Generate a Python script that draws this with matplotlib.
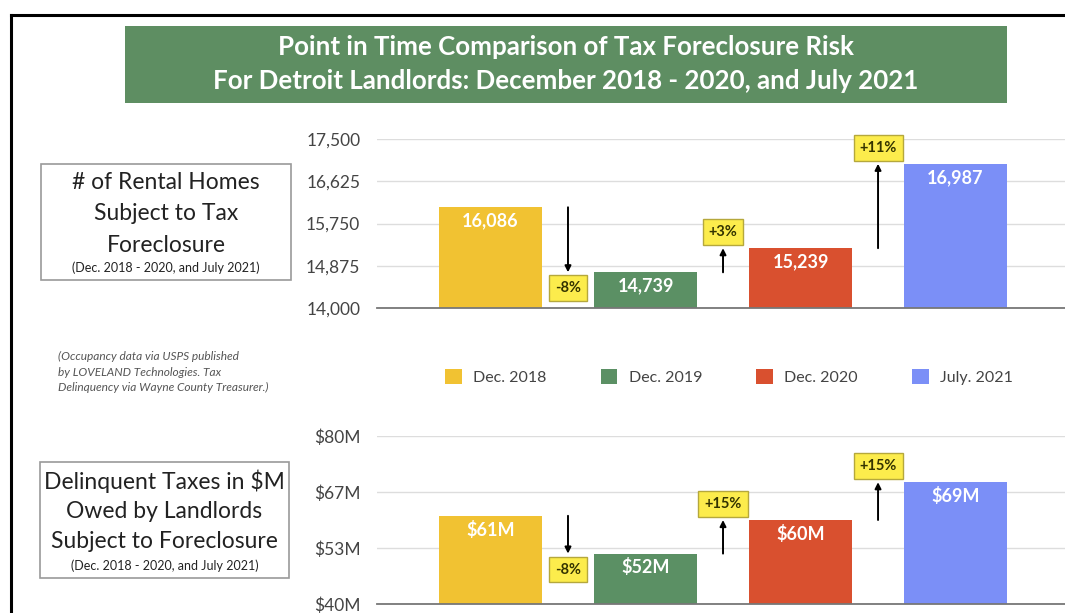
import matplotlib
matplotlib.use("Agg")
import matplotlib.pyplot as plt
from matplotlib.patches import Rectangle, Patch
from matplotlib.lines import Line2D

plt.rcParams['font.family'] = ['Lato', 'DejaVu Sans']

# data
categories = ['Dec. 2018', 'Dec. 2019', 'Dec. 2020', 'July. 2021']
colors = ['#F1C232', '#5B9064', '#D9502F', '#7B8FF7']

rental_homes = [16086, 14739, 15239, 16987]
rental_pct = ['-8%', '+3%', '+11%']
rental_ticks = [14000, 14875, 15750, 16625, 17500]

tax_millions = [61, 52, 60, 69]
tax_pct = ['-8%', '+15%', '+15%']
tax_ticks = [40, 53.33, 66.67, 80]
tax_tick_labels = ['$40M', '$53M', '$67M', '$80M']

W, H = 1065, 613
fig = plt.figure(figsize=(W / 100, H / 100), dpi=100)

def fx(px):
    return px / W

def fy(py):
    return 1 - py / H

# border lines
fig.add_artist(Line2D([fx(11), fx(11)], [0, fy(14.5)], color='black', lw=2.2))
fig.add_artist(Line2D([fx(11), 1], [fy(14.5), fy(14.5)], color='black', lw=2.2))

# title banner
fig.add_artist(Rectangle((fx(125), fy(103)), fx(1007) - fx(125), fy(26) - fy(103),
                         facecolor='#5E8E62', edgecolor='none'))
fig.text(fx(566), fy(47), 'Point in Time Comparison of Tax Foreclosure Risk',
         ha='center', va='center', color='white', fontsize=18.6, fontweight='bold')
fig.text(fx(566), fy(81), 'For Detroit Landlords: December 2018 - 2020, and July 2021',
         ha='center', va='center', color='white', fontsize=18.6, fontweight='bold')

# side boxes
def side_box(x0, y0, x1, y1, lines, ys, small, ys_small):
    fig.add_artist(Rectangle((fx(x0), fy(y1)), fx(x1) - fx(x0), fy(y0) - fy(y1),
                             facecolor='none', edgecolor='#9a9a9a', lw=1.2))
    cx = fx((x0 + x1) / 2)
    for t, yy in zip(lines, ys):
        fig.text(cx, fy(yy), t, ha='center', va='center', fontsize=16.5, color='#222222')
    fig.text(cx, fy(ys_small), small, ha='center', va='center', fontsize=9, color='#222222')

side_box(41, 164, 291, 280, ['# of Rental Homes', 'Subject to Tax', 'Foreclosure'],
         [183, 214, 245], '(Dec. 2018 - 2020, and July 2021)', 268)
side_box(40, 462, 289, 578, ['Delinquent Taxes in $M', 'Owed by Landlords', 'Subject to Foreclosure'],
         [481, 511, 541], '(Dec. 2018 - 2020, and July 2021)', 566)

# source note
note = ['(Occupancy data via USPS published', 'by LOVELAND Technologies. Tax',
        'Delinquency via Wayne County Treasurer.)']
for t, yy in zip(note, [356, 372, 387]):
    fig.text(fx(58), fy(yy), t, ha='left', va='center', fontsize=8.6, style='italic', color='#555555')

# chart axes
ax_top = fig.add_axes([fx(377), fy(308), 1 - fx(377), fy(139) - fy(308)])
ax_bot = fig.add_axes([fx(377), fy(604), 1 - fx(377), fy(436) - fy(604)])

def draw_panel(ax, values, pcts, ticks, tick_labels, fmt):
    x = range(len(values))
    ax.bar(x, values, width=0.668, color=colors, zorder=2)
    ax.set_xlim(-0.732, 3.706)
    ax.set_ylim(ticks[0], ticks[-1])
    ax.set_yticks(ticks)
    ax.set_yticklabels(tick_labels, fontsize=12.5, color='#444444')
    ax.set_xticks([])
    ax.tick_params(axis='y', length=0, pad=12)
    for s in ax.spines.values():
        s.set_visible(False)
    ax.yaxis.grid(True, color='#dddddd', lw=1, zorder=0)
    ax.axhline(ticks[0], color='#777777', lw=1.3, zorder=3, clip_on=False)
    for i, v in enumerate(values):
        ax.annotate(fmt(v), (i, v), xytext=(0, -10), textcoords='offset points',
                    ha='center', va='center', color='white', fontsize=13, fontweight='bold')
    for i, p in enumerate(pcts):
        a, b = values[i], values[i + 1]
        ax.annotate('', xy=(i + 0.5, b), xytext=(i + 0.5, a),
                    arrowprops=dict(arrowstyle='-|>', color='black', lw=1.4,
                                    mutation_scale=9, shrinkA=0, shrinkB=0))
        off = 11.5 if b > a else -11.5
        ax.annotate(p, (i + 0.5, b), xytext=(0, off), textcoords='offset points',
                    ha='center', va='center', fontsize=10.5, fontweight='bold', color='#333300',
                    bbox=dict(boxstyle='square,pad=0.4', facecolor='#FCEC4C', edgecolor='#B5A83C', lw=1),
                    annotation_clip=False)

draw_panel(ax_top, rental_homes, rental_pct, rental_ticks,
           [f'{t:,}' for t in rental_ticks], lambda v: f'{v:,}')
draw_panel(ax_bot, tax_millions, tax_pct, tax_ticks, tax_tick_labels,
           lambda v: f'${v}M')

# legend
handles = [Patch(facecolor=c, edgecolor='none') for c in colors]
fig.legend(handles, categories, loc='center', bbox_to_anchor=(fx(729), fy(377)),
           ncol=4, frameon=False, fontsize=11.5, labelcolor='#444444',
           handlelength=1.05, handleheight=1.05, handletextpad=0.7, columnspacing=3.4)

fig.savefig('out.png', dpi=100)
